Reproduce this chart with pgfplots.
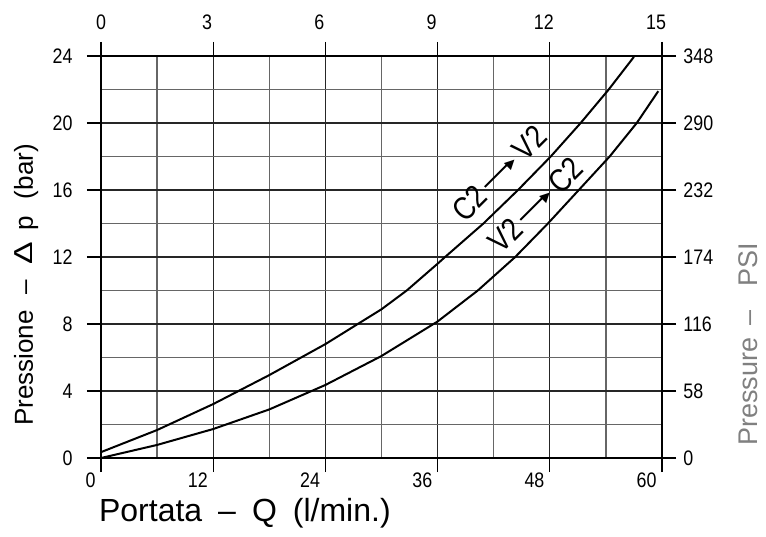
\documentclass[border=0pt]{standalone}
\usepackage{pgfplots}
\pgfplotsset{compat=1.18}
\usepackage{graphicx}
\usepackage{fontspec}
\setmainfont{Liberation Sans}
\newfontfamily\nar[FakeStretch=0.85]{Liberation Sans}
\newfontfamily\dv{DejaVu Sans}
\newcommand\arr{\kern0.15em\rule[0.33em]{1.05em}{0.06em}\kern-0.12em\raisebox{0.19em}{\dv\fontsize{6.5}{6.5}\selectfont ▶}\kern0.2em}
\begin{document}
\begin{tikzpicture}
\pgfplotsset{
  common/.style={
    scale only axis, width=280.5pt, height=201pt,
    at={(0,0)}, anchor=south west,
    xmin=0, xmax=60, ymin=0, ymax=24,
    tick align=outside, major tick length=7pt,
    tick style={black, line width=0.6pt},
    tick label style={font=\nar\fontsize{10.5}{11}\selectfont, inner sep=0pt},
    /pgf/number format/assume math mode=true,
  }
}
\begin{axis}[common,
  axis line style={line width=1.2pt},
  xtick={0,12,...,60}, ytick={0,4,...,24},
  minor x tick num=1, minor y tick num=1, minor tick length=0pt,
  grid=both,
  major grid style={black!85, line width=0.6pt},
  minor grid style={black!60, line width=0.6pt},
  xtick pos=left, ytick pos=left,
  xticklabel style={anchor=north east, xshift=-2.5pt},
  yticklabel style={anchor=east, xshift=-7pt},
]
\addplot[black, line width=1pt] coordinates {(0,0.35) (6,1.67) (12,3.22) (18,4.95) (24,6.8) (30,8.88) (32.7,10) (36,11.6) (36.8,12) (40.9,14) (44.6,16) (48.1,18) (51.3,20) (54.3,22) (57,23.95)};
\addplot[black, line width=1pt] coordinates {(0,0) (6,0.78) (12,1.73) (18,2.9) (24,4.36) (30,6.09) (36,8.15) (40.3,10) (44.3,12) (47.8,14) (51.1,16) (54.4,18) (57.3,20) (59.6,21.9)};
\node[rotate=45, font=\nar\fontsize{16}{16}\selectfont] at (axis cs:42.6,17.0) {C2\arr V2};
\node[rotate=45, font=\nar\fontsize{16}{16}\selectfont] at (axis cs:46.5,15.1) {V2\arr C2};
\end{axis}
\begin{axis}[common,
  axis line style={draw=none},
  xtick={0,12,...,60}, xticklabels={\kern6pt0,3,6,9,12,15},
  ytick={0,4,...,24}, yticklabels={0,58,116,174,232,290,348},
  xtick pos=right, xticklabel pos=right,
  ytick pos=right, yticklabel pos=right,
  xticklabel style={anchor=south, xshift=-3pt, yshift=6pt},
  yticklabel style={anchor=west, xshift=3.5pt},
]
\end{axis}
\node[rotate=90, anchor=base west, font=\fontsize{13}{13}\selectfont] at (-34pt,12.5pt) {Pressione\hspace{0.6em}–\hspace{0.6em}\scalebox{1.3}[1]{Δ}\hspace{0.45em}p\hspace{0.65em}(bar)};
\node[anchor=base west, font=\fontsize{16}{16}\selectfont] at (-4.5pt,-31.5pt) {Portata\hspace{0.5em}–\hspace{0.5em}Q\hspace{0.5em}(l/min.)};
\node[rotate=90, anchor=base west, text=black!50, font=\fontsize{13.5}{13.5}\selectfont] at (328pt,2.5pt) {Pressure\hspace{6pt}–\hspace{12pt}PSI};
\pgfresetboundingbox
\path[use as bounding box] (-50.5pt,-39pt) rectangle (332.5pt,229pt);
\end{tikzpicture}
\end{document}
